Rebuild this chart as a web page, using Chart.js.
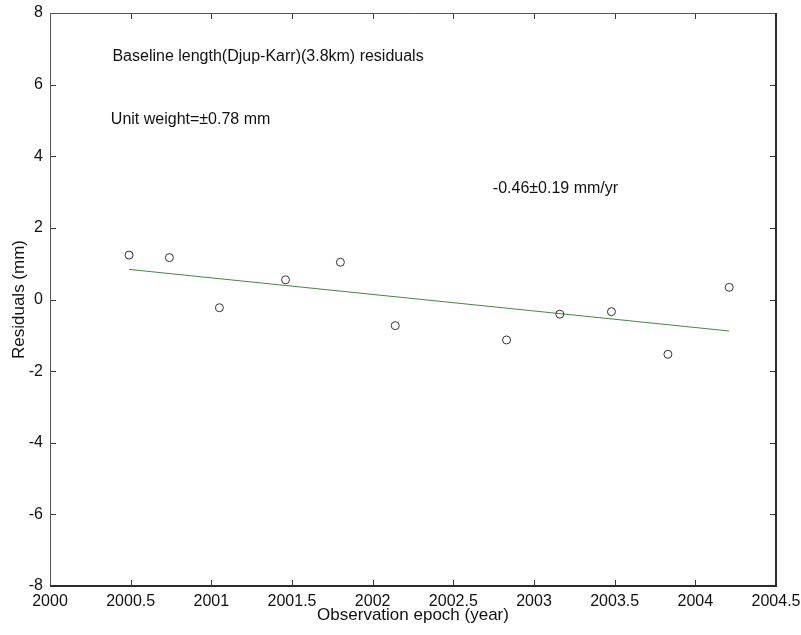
<!DOCTYPE html>
<html>
<head>
<meta charset="utf-8">
<script src="https://cdn.jsdelivr.net/npm/chart.js@4.4.1/dist/chart.umd.min.js"></script>
<style>
  html, body { margin: 0; padding: 0; background: #fff; }
  #wrap { width: 801px; height: 635px; }
</style>
</head>
<body>
<div id="wrap"><canvas id="c" width="801" height="635"></canvas></div>
<script>
// Observation epochs (decimal year) and baseline-length residuals (mm)
const epochs    = [2000.49, 2000.74, 2001.05, 2001.46, 2001.80, 2002.14, 2002.83, 2003.16, 2003.48, 2003.83, 2004.21];
const residuals = [1.24, 1.17, -0.23, 0.55, 1.04, -0.73, -1.13, -0.41, -0.34, -1.53, 0.34];

// Fitted linear trend (-0.46 mm/yr), end points at first and last epoch
const trendEpochs = [2000.49, 2004.21];
const trendValues = [0.84, -0.88];

// Axis tick values
const xTicks = [2000, 2000.5, 2001, 2001.5, 2002, 2002.5, 2003, 2003.5, 2004, 2004.5];
const yTicks = [-8, -6, -4, -2, 0, 2, 4, 6, 8];

// Text notes placed in data coordinates
const noteTexts = ['Baseline length(Djup-Karr)(3.8km) residuals', 'Unit weight=\u00b10.78 mm', '-0.46\u00b10.19 mm/yr'];
const noteX = [2000.387, 2000.377, 2002.745];
const noteY = [6.77, 5.02, 3.09];

const FONT = '"Liberation Sans", Arial, sans-serif';

// Box around the plot area with inward tick marks on all four sides
const boxPlugin = {
  id: 'box',
  afterDatasetsDraw(chart) {
    const { ctx, chartArea: a, scales: { x, y } } = chart;
    const len = 6;
    ctx.save();
    ctx.strokeStyle = '#3a3a3a';
    ctx.lineWidth = 1;
    ctx.beginPath();
    xTicks.forEach(v => {
      const px = Math.round(x.getPixelForValue(v)) + 0.5;
      ctx.moveTo(px, a.bottom); ctx.lineTo(px, a.bottom - len);
      ctx.moveTo(px, a.top); ctx.lineTo(px, a.top + len);
    });
    yTicks.forEach(v => {
      const py = Math.round(y.getPixelForValue(v)) + 0.5;
      ctx.moveTo(a.left, py); ctx.lineTo(a.left + len, py);
      ctx.moveTo(a.right, py); ctx.lineTo(a.right - len, py);
    });
    ctx.stroke();
    ctx.strokeStyle = '#555';
    ctx.lineWidth = 1;
    ctx.beginPath();
    ctx.moveTo(Math.round(a.left) + 0.5, a.bottom);
    ctx.lineTo(Math.round(a.left) + 0.5, Math.round(a.top) + 0.5);
    ctx.lineTo(a.right, Math.round(a.top) + 0.5);
    ctx.stroke();
    ctx.strokeStyle = '#2a2a2a';
    ctx.lineWidth = 2;
    ctx.beginPath();
    ctx.moveTo(Math.round(a.right), a.top);
    ctx.lineTo(Math.round(a.right), Math.round(a.bottom));
    ctx.lineTo(a.left, Math.round(a.bottom));
    ctx.stroke();

    ctx.fillStyle = '#111';
    ctx.font = '16px ' + FONT;
    ctx.textAlign = 'left';
    ctx.textBaseline = 'middle';
    noteTexts.forEach((t, i) => {
      ctx.fillText(t, x.getPixelForValue(noteX[i]), y.getPixelForValue(noteY[i]));
    });
    ctx.restore();
  }
};

new Chart(document.getElementById('c'), {
  type: 'scatter',
  data: {
    datasets: [
      {
        label: 'Residuals',
        data: epochs.map((e, i) => ({ x: e, y: residuals[i] })),
        pointStyle: 'circle',
        pointRadius: 4,
        pointBorderWidth: 1,
        pointBorderColor: '#333',
        pointBackgroundColor: 'rgba(0,0,0,0)',
        showLine: false
      },
      {
        label: 'Trend',
        data: trendEpochs.map((e, i) => ({ x: e, y: trendValues[i] })),
        showLine: true,
        borderColor: '#3f8a3f',
        borderWidth: 1,
        pointRadius: 0,
        fill: false
      }
    ]
  },
  options: {
    responsive: false,
    animation: false,
    events: [],
    layout: { padding: { left: 0, top: 13, right: 25, bottom: 0 } },
    plugins: { legend: { display: false }, tooltip: { enabled: false } },
    scales: {
      x: {
        type: 'linear',
        min: 2000, max: 2004.5,
        afterBuildTicks(s) { s.ticks = xTicks.map(v => ({ value: v })); },
        afterFit(s) { s.height = 49; s.paddingLeft = 0; s.paddingRight = 0; },
        grid: { display: false, drawTicks: false },
        border: { display: false },
        ticks: {
          color: '#111', padding: 6, maxRotation: 0, autoSkip: false,
          font: { family: FONT, size: 16 },
          callback: v => String(v)
        },
        title: {
          display: true, text: 'Observation epoch (year)', color: '#111',
          font: { family: FONT, size: 17 }, padding: { top: 0, bottom: 9 }
        }
      },
      y: {
        type: 'linear',
        min: -8, max: 8,
        afterBuildTicks(s) { s.ticks = yTicks.map(v => ({ value: v })); },
        afterFit(s) { s.width = 50; s.paddingTop = 0; s.paddingBottom = 0; },
        grid: { display: false, drawTicks: false },
        border: { display: false },
        ticks: {
          color: '#111', padding: 7, autoSkip: false,
          font: { family: FONT, size: 16 },
          callback: v => String(v)
        },
        title: {
          display: true, text: 'Residuals (mm)', color: '#111',
          font: { family: FONT, size: 17 }, padding: { top: 9, bottom: 0 }
        }
      }
    }
  },
  plugins: [boxPlugin]
});
</script>
</body>
</html>
